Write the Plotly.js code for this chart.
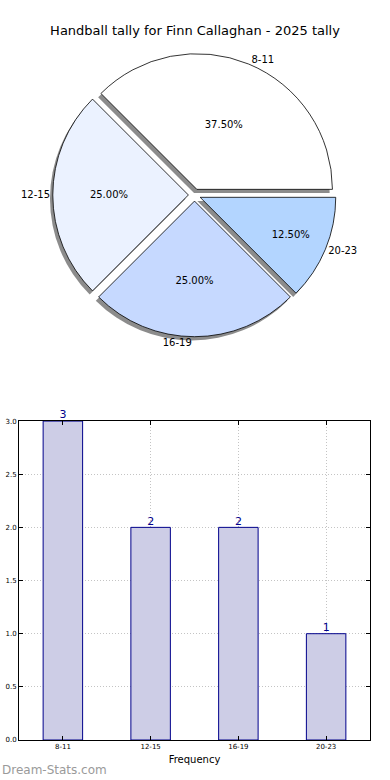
<!DOCTYPE html>
<html>
<head>
<meta charset="utf-8">
<script src="https://cdn.plot.ly/plotly-3.0.1.min.js"></script>
<style>html,body{margin:0;padding:0;background:#fff;}#chart{width:390px;height:780px;}</style>
</head>
<body>
<div id="chart"></div>
<script>
// ---- data ----
const categories = ['8-11', '12-15', '16-19', '20-23'];
const counts = [3, 2, 2, 1];
const chartTitle = 'Handball tally for Finn Callaghan - 2025 tally';
const xAxisTitle = 'Frequency';
const yTickVals = [0, 0.5, 1, 1.5, 2, 2.5, 3];
const watermark = 'Dream-Stats.com';

// ---- styles ----
const sliceColors = ['#ffffff', '#ebf2ff', '#c6d9ff', '#b3d5ff'];
const pullAmt = 0.045;
const font = 'DejaVu Sans, sans-serif';
const pieDomain = {x: [0.094, 0.906], y: [0.545, 0.928]};
const shadowDx = -0.008, shadowDy = -0.005;
const pieRotation = -45;
const pulls = categories.map(() => pullAmt);

const shadow = {
  type: 'pie', labels: categories, values: counts, sort: false,
  direction: 'counterclockwise', rotation: pieRotation, pull: pulls,
  domain: {x: [pieDomain.x[0] + shadowDx, pieDomain.x[1] + shadowDx],
           y: [pieDomain.y[0] + shadowDy, pieDomain.y[1] + shadowDy]},
  marker: {colors: categories.map(() => '#8c8c8c'), line: {width: 0}},
  textinfo: 'none', hoverinfo: 'skip', showlegend: false
};

const pie = {
  type: 'pie', labels: categories, values: counts, sort: false,
  direction: 'counterclockwise', rotation: pieRotation, pull: pulls,
  domain: pieDomain,
  marker: {colors: sliceColors, line: {color: '#000000', width: 0.8}},
  texttemplate: '%{percent:.2%}', textposition: 'inside',
  insidetextorientation: 'horizontal',
  textfont: {family: font, size: 10, color: '#000000'},
  showlegend: false
};

const pieLabels = {
  type: 'pie', labels: categories, values: counts, sort: false,
  direction: 'counterclockwise', rotation: pieRotation, pull: pulls,
  domain: pieDomain,
  marker: {colors: categories.map(() => 'rgba(0,0,0,0)'), line: {width: 0}},
  textinfo: 'label', textposition: 'outside',
  outsidetextfont: {family: font, size: 10, color: '#000000'},
  hoverinfo: 'skip', showlegend: false
};

const bars = {
  type: 'bar', x: categories, y: counts, width: 0.45,
  marker: {color: '#cdcde6', line: {color: '#00008b', width: 1}},
  xaxis: 'x', yaxis: 'y', showlegend: false, hoverinfo: 'x+y'
};

const barText = {
  type: 'scatter', mode: 'text', x: categories, y: counts,
  text: counts.map(String), textposition: 'top center',
  textfont: {family: font, size: 11, color: '#00008b'},
  cliponaxis: false, showlegend: false, hoverinfo: 'skip'
};

const layout = {
  width: 390, height: 780,
  margin: {l: 19, r: 20, t: 0, b: 40},
  paper_bgcolor: '#ffffff', plot_bgcolor: '#ffffff',
  font: {family: font, color: '#000000'},
  title: {text: chartTitle, font: {family: font, size: 13, color: '#000000'},
          x: 0.5, xref: 'container', y: 1 - 30 / 780, yref: 'container', yanchor: 'middle'},
  xaxis: {
    type: 'category', range: [-0.5, 3.5], domain: [0, 1],
    showline: true, linecolor: '#000000', linewidth: 1, mirror: 'ticks',
    ticks: 'inside', ticklen: 4, tickcolor: '#000000',
    showgrid: true, gridcolor: '#c4c4c4', griddash: '1px,2px', gridwidth: 1,
    tickfont: {family: font, size: 7, color: '#000000'},
    title: {text: xAxisTitle, font: {family: font, size: 10, color: '#000000'}, standoff: 5},
    zeroline: false, fixedrange: true
  },
  yaxis: {
    range: [0, 3], domain: [0, 0.431],
    tickvals: yTickVals, tickformat: '.1f',
    showline: true, linecolor: '#000000', linewidth: 1, mirror: 'ticks',
    ticks: 'inside', ticklen: 4, tickcolor: '#000000',
    showgrid: true, gridcolor: '#c4c4c4', griddash: '1px,2px', gridwidth: 1,
    tickfont: {family: font, size: 7, color: '#000000'},
    zeroline: false, fixedrange: true
  },
  annotations: [{
    text: watermark, xref: 'paper', yref: 'paper',
    x: -19 / 351, y: -30 / 740, xanchor: 'left', yanchor: 'middle',
    showarrow: false, font: {family: font, size: 12, color: '#9a9a9a'}
  }]
};

Plotly.newPlot('chart', [shadow, pie, pieLabels, bars, barText], layout,
  {displayModeBar: false, staticPlot: true});
</script>
</body>
</html>
